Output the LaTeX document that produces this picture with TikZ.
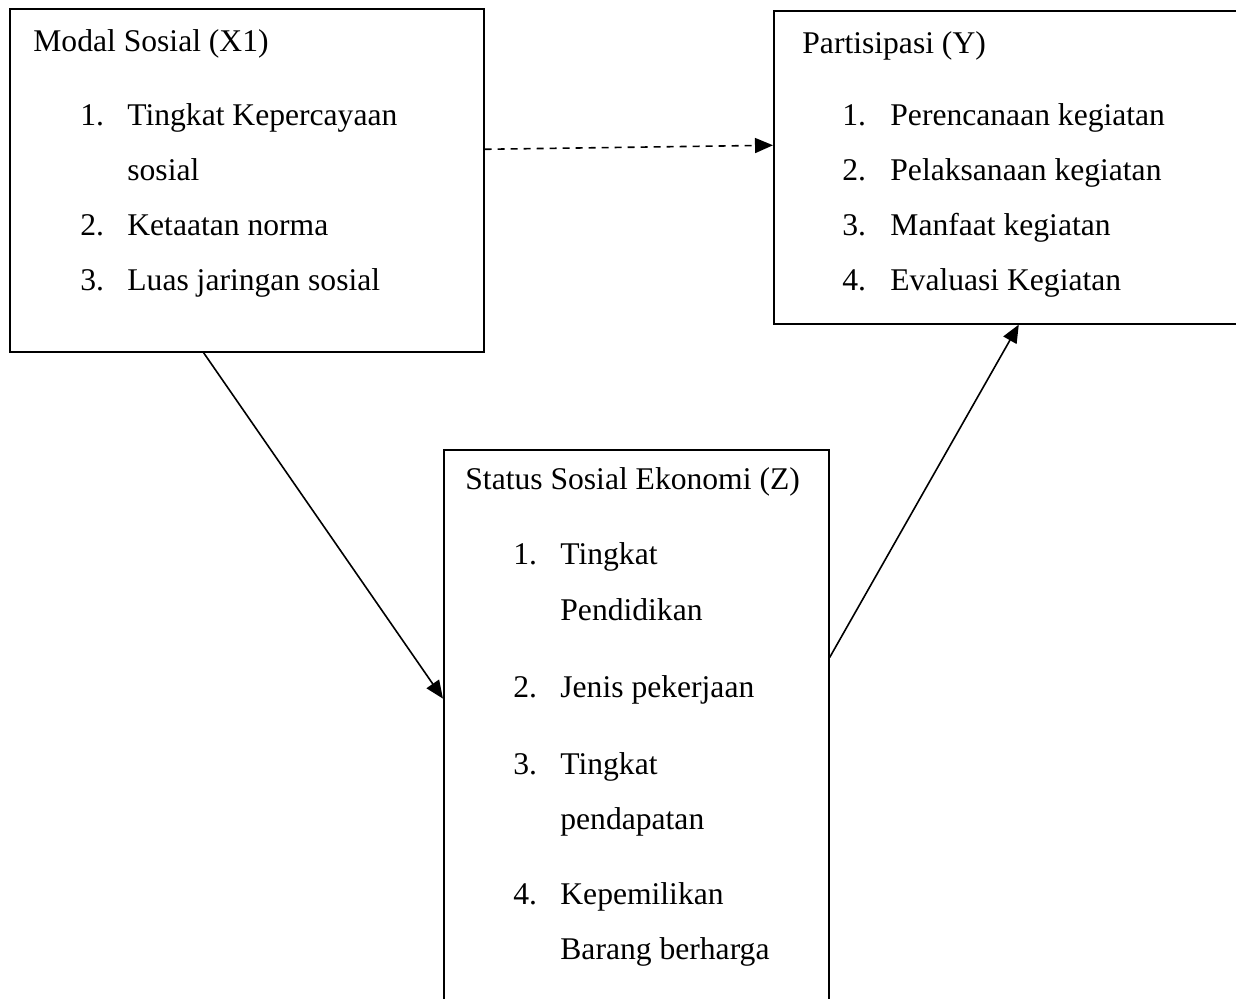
\documentclass[tikz,border=0pt]{standalone}
\usepackage{fontspec}
\setmainfont{Liberation Serif}
\usetikzlibrary{arrows.meta, calc}

\begin{document}
\begin{tikzpicture}[x = 0.5pt, y = -0.5pt,
        box/.style = {draw, line width = 0.8pt, inner sep = 0pt, anchor = north west},
        txt/.style = {anchor = base west, inner sep = 0pt, font = \fontsize{15.8pt}{18pt}\selectfont},
        arr/.style = {line width = 0.8pt, -{Triangle[length = 9pt, width = 7.5pt]}}]
            \path[use as bounding box, clip] (0,0) rectangle (1236,999);

            \node[box, minimum width = 237pt, minimum height = 171.5pt] (modal) at (9,8) {};
            \node[box, minimum width = 236pt, minimum height = 156.5pt] (partisipasi) at (773,10) {};
            \node[box, minimum width = 192.5pt, minimum height = 281pt] (status) at (443,449) {};

            \node[txt] (modal-t) at (33,52) {Modal Sosial (X1)};
            \node[txt] (modal-n1) at (80,126) {1.};
            \node[txt] (modal-1) at (127,126) {Tingkat Kepercayaan};
            \node[txt] (modal-1b) at (127,181) {sosial};
            \node[txt] (modal-n2) at (80,236) {2.};
            \node[txt] (modal-2) at (127,236) {Ketaatan norma};
            \node[txt] (modal-n3) at (80,291) {3.};
            \node[txt] (modal-3) at (127,291) {Luas jaringan sosial};

            \node[txt] (part-t) at (802,54) {Partisipasi (Y)};
            \node[txt] (part-n1) at (842,126) {1.};
            \node[txt] (part-1) at (890,126) {Perencanaan kegiatan};
            \node[txt] (part-n2) at (842,181) {2.};
            \node[txt] (part-2) at (890,181) {Pelaksanaan kegiatan};
            \node[txt] (part-n3) at (842,236) {3.};
            \node[txt] (part-3) at (890,236) {Manfaat kegiatan};
            \node[txt] (part-n4) at (842,291) {4.};
            \node[txt] (part-4) at (890,291) {Evaluasi Kegiatan};

            \node[txt] (stat-t) at (465,490) {Status Sosial Ekonomi (Z)};
            \node[txt] (stat-n1) at (513,565) {1.};
            \node[txt] (stat-1) at (560,565) {Tingkat};
            \node[txt] (stat-1b) at (560,620) {Pendidikan};
            \node[txt] (stat-n2) at (513,697) {2.};
            \node[txt] (stat-2) at (560,697) {Jenis pekerjaan};
            \node[txt] (stat-n3) at (513,774) {3.};
            \node[txt] (stat-3) at (560,774) {Tingkat};
            \node[txt] (stat-3b) at (560,829) {pendapatan};
            \node[txt] (stat-n4) at (513,904) {4.};
            \node[txt] (stat-4) at (560,904) {Kepemilikan};
            \node[txt] (stat-4b) at (560,959) {Barang berharga};

            \draw[arr, dash pattern = on 3.5pt off 3pt] ($(modal.north east)!0.41!(modal.south east)$) -- ($(partisipasi.north west)!0.43!(partisipasi.south west)$);
            \draw[arr] ($(modal.south west)!0.409!(modal.south east)$) -- ($(status.north west)!0.443!(status.south west)$);
            \draw[arr] ($(status.north east)!0.37!(status.south east)$) -- ($(partisipasi.south west)!0.519!(partisipasi.south east)$);
        \end{tikzpicture}
\end{document}
